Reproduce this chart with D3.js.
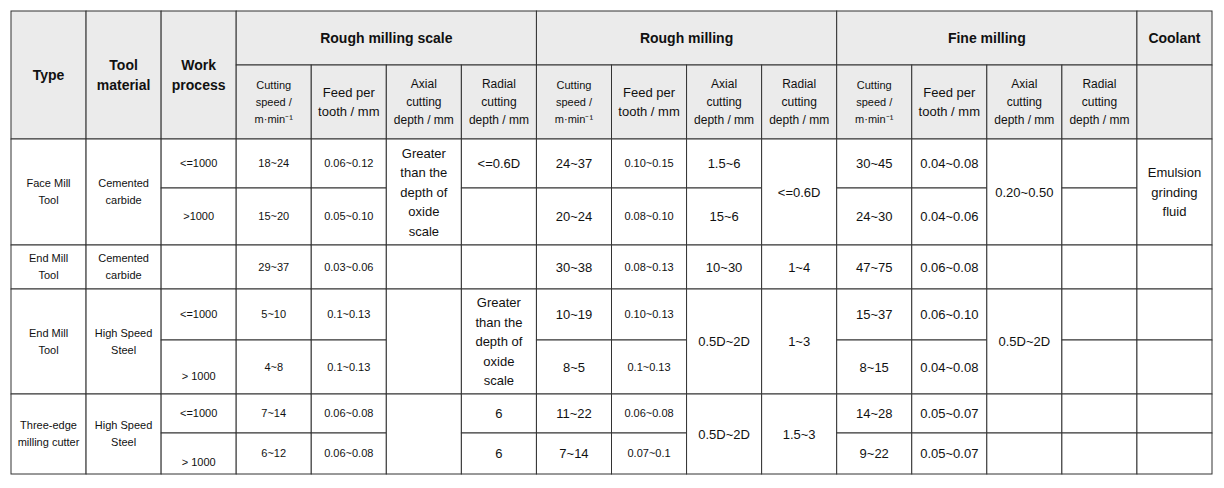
<!DOCTYPE html>
<html><head><meta charset="utf-8">
<script src="https://cdn.jsdelivr.net/npm/d3@7"></script>
<style>body{margin:0;background:#fff}text{font-family:"Liberation Sans",Arial,sans-serif;fill:#111}</style>
</head><body><svg id="c" width="1224" height="488"></svg>
<script>
// Row boundaries (index 0..9) and column count
const rowLines = [11, 65, 139, 188, 245, 289, 340, 394, 433, 474];
const nCols = 16;
// Header
const topHeaders = [
  {c:0,s:1,t:"Type"},{c:1,s:1,t:"Tool\nmaterial"},{c:2,s:1,t:"Work\nprocess"}];
const groupHeaders = ["Rough milling scale","Rough milling","Fine milling"];
const subHeaders = ["Cutting\nspeed /\nm·min⁻¹","Feed per\ntooth / mm","Axial\ncutting\ndepth / mm","Radial\ncutting\ndepth / mm"];
const subSizes = [11,13,12,12];
// Body columns: boundaries (row indices) and values per segment
const types = ["Face Mill\nTool","End Mill\nTool","End Mill\nTool","Three-edge\nmilling cutter"];
const materials = ["Cemented\ncarbide","Cemented\ncarbide","High Speed\nSteel","High Speed\nSteel"];
const processes = ["<=1000",">1000","","<=1000","> 1000","<=1000","> 1000"];
const rsSpeed = ["18~24","15~20","29~37","5~10","4~8","7~14","6~12"];
const rsFeed = ["0.06~0.12","0.05~0.10","0.03~0.06","0.1~0.13","0.1~0.13","0.06~0.08","0.06~0.08"];
const rsAxial = ["Greater\nthan the\ndepth of\noxide\nscale","","",""];
const rsRadial = ["<=0.6D","","","Greater\nthan the\ndepth of\noxide\nscale","6","6"];
const rmSpeed = ["24~37","20~24","30~38","10~19","8~5","11~22","7~14"];
const rmFeed = ["0.10~0.15","0.08~0.10","0.08~0.13","0.10~0.13","0.1~0.13","0.06~0.08","0.07~0.1"];
const rmAxial = ["1.5~6","15~6","10~30","0.5D~2D","0.5D~2D"];
const rmRadial = ["<=0.6D","1~4","1~3","1.5~3"];
const fmSpeed = ["30~45","24~30","47~75","15~37","8~15","14~28","9~22"];
const fmFeed = ["0.04~0.08","0.04~0.06","0.06~0.08","0.06~0.10","0.04~0.08","0.05~0.07","0.05~0.07"];
const fmAxial = ["0.20~0.50","","0.5D~2D","",""];
const fmRadial = ["","","","","","",""];
const coolant = ["Emulsion\ngrinding\nfluid","","","","",""];

const all=[2,3,4,5,6,7,8,9], g4=[2,4,5,7,9];
const columns = [
 {b:g4,v:types,f:11},{b:g4,v:materials,f:11},{b:all,v:processes,f:11},
 {b:all,v:rsSpeed,f:11},{b:all,v:rsFeed,f:11},{b:g4,v:rsAxial,f:13},{b:[2,3,4,5,7,8,9],v:rsRadial,f:13},
 {b:all,v:rmSpeed,f:13},{b:all,v:rmFeed,f:11},{b:[2,3,4,5,7,9],v:rmAxial,f:13},{b:g4,v:rmRadial,f:13},
 {b:all,v:fmSpeed,f:13},{b:all,v:fmFeed,f:13},{b:[2,4,5,7,8,9],v:fmAxial,f:13},{b:all,v:fmRadial,f:13},
 {b:[2,4,5,6,7,8,9],v:coolant,f:13}];

const svg=d3.select("#c");
const x=d3.scaleLinear().domain([0,nCols]).range([11,1212]);
const y=i=>rowLines[i];
const cells=[];
topHeaders.forEach(h=>cells.push({c:h.c,s:h.s,r0:0,r1:2,t:h.t,f:14,b:true,h:true}));
groupHeaders.forEach((g,i)=>{cells.push({c:3+i*4,s:4,r0:0,r1:1,t:g,f:14,b:true,h:true});
  subHeaders.forEach((sh,j)=>cells.push({c:3+i*4+j,s:1,r0:1,r1:2,t:sh,f:subSizes[j],h:true}));});
cells.push({c:15,s:1,r0:0,r1:1,t:"Coolant",f:14,b:true,h:true});
cells.push({c:15,s:1,r0:1,r1:2,t:"",f:13,h:true});
columns.forEach((col,ci)=>col.v.forEach((v,k)=>cells.push({c:ci,s:1,r0:col.b[k],r1:col.b[k+1],t:v,f:col.f,
  dy:(v.startsWith(">")&&ci==2&&col.b[k]>3)?9:0})));

const g=svg.selectAll("g.cell").data(cells).join("g");
g.append("rect").attr("x",d=>x(d.c)).attr("y",d=>y(d.r0)).attr("width",d=>x(d.c+d.s)-x(d.c))
 .attr("height",d=>y(d.r1)-y(d.r0)).attr("fill",d=>d.h?"#ebebeb":"#fff").attr("stroke","#333").attr("stroke-width",1);
g.each(function(d){
  const lines=d.t.split("\n"); if(!d.t) return;
  const lh=d.f<=11?17:(d.f==12?18:19.5);
  const cx=(x(d.c)+x(d.c+d.s))/2, cy=(y(d.r0)+y(d.r1))/2+(d.dy||0);
  const t=d3.select(this).append("text").attr("text-anchor","middle").attr("font-size",d.f)
    .attr("font-weight",d.b?"bold":"normal");
  lines.forEach((l,i)=>t.append("tspan").attr("x",cx).attr("y",cy+(i-(lines.length-1)/2)*lh).attr("dy","0.35em").text(l));
});
</script></body></html>
